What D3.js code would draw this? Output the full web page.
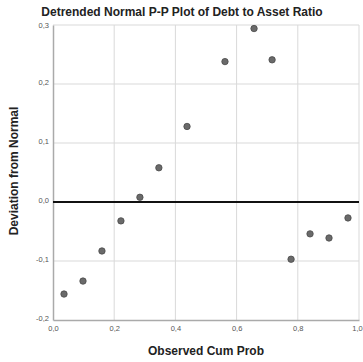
<!DOCTYPE html>
<html><head><meta charset="utf-8">
<script src="https://cdn.jsdelivr.net/npm/d3@7"></script>
<style>body{margin:0;background:#fff;}svg{display:block;font-family:"Liberation Sans",Arial,sans-serif;}</style>
</head><body>
<svg id="c" width="363" height="362"></svg>
<script>
const titleText = "Detrended Normal P-P Plot of Debt to Asset Ratio";
const xTitle = "Observed Cum Prob";
const yTitle = "Deviation from Normal";
const xTicks = [0.0, 0.2, 0.4, 0.6, 0.8, 1.0];
const yTicks = [-0.2, -0.1, 0.0, 0.1, 0.2, 0.3];
const observed = [0.036, 0.098, 0.160, 0.222, 0.284, 0.346, 0.438, 0.562, 0.657, 0.716, 0.778, 0.840, 0.902, 0.964];
const deviation = [-0.156, -0.134, -0.083, -0.032, 0.008, 0.058, 0.128, 0.238, 0.294, 0.241, -0.097, -0.054, -0.061, -0.027];

const svg = d3.select("#c");
const L = 53, R = 359, T = 25, B = 320;
const x = d3.scaleLinear().domain([0, 1]).range([L, R]);
const y = d3.scaleLinear().domain([-0.2, 0.3]).range([B, T]);
const fmt = d => d3.format(".1f")(d).replace(".", ",").replace("−", "-");

// grid
svg.append("g").selectAll("line.v").data(xTicks.filter(d => d > 0)).join("line")
  .attr("x1", d => x(d)).attr("x2", d => x(d)).attr("y1", T).attr("y2", B)
  .attr("stroke", "#d9d9d9").attr("stroke-width", 1);
svg.append("g").selectAll("line.h").data(yTicks.filter(d => d > -0.2)).join("line")
  .attr("x1", L).attr("x2", R).attr("y1", d => y(d)).attr("y2", d => y(d))
  .attr("stroke", "#d9d9d9").attr("stroke-width", 1);

// axes
const xa = svg.append("g").attr("transform", `translate(0,${B})`)
  .call(d3.axisBottom(x).tickValues(xTicks).tickFormat(fmt).tickSize(0).tickPadding(6));
const ya = svg.append("g").attr("transform", `translate(${L},0)`)
  .call(d3.axisLeft(y).tickValues(yTicks).tickFormat(fmt).tickSize(0).tickPadding(4));
[xa, ya].forEach(a => {
  a.select(".domain").attr("stroke", "#aaa").attr("stroke-width", 1.5);
  a.selectAll("text").attr("font-size", 7.5).attr("fill", "#555")
    .attr("font-family", '"Liberation Sans",Arial,sans-serif');
});
ya.selectAll("text").attr("dy", "0.1em");
ya.selectAll(".tick").filter(d => d === 0.3).select("text").attr("dy", "0.35em");
// keep the last x label inside the window
xa.selectAll(".tick").filter(d => d === 1).select("text").attr("x", -2);

// zero reference line
svg.append("line").attr("x1", L).attr("x2", R).attr("y1", y(0)).attr("y2", y(0))
  .attr("stroke", "#111").attr("stroke-width", 2);

// points
svg.append("g").selectAll("circle").data(observed.map((o, i) => [o, deviation[i]])).join("circle")
  .attr("cx", d => x(d[0])).attr("cy", d => y(d[1])).attr("r", 3.2)
  .attr("fill", "#6a6a6a").attr("stroke", "#4a4a4a").attr("stroke-width", 0.8);

// titles
svg.append("text").attr("x", 182).attr("y", 16).attr("text-anchor", "middle")
  .attr("font-size", 12).attr("font-weight", "bold").attr("fill", "#222").text(titleText);
svg.append("text").attr("x", 206).attr("y", 355).attr("text-anchor", "middle")
  .attr("font-size", 12).attr("font-weight", "bold").attr("fill", "#222").text(xTitle);
svg.append("text").attr("transform", "translate(18,171) rotate(-90)").attr("text-anchor", "middle")
  .attr("font-size", 12).attr("font-weight", "bold").attr("fill", "#222").text(yTitle);
</script>
</body></html>
